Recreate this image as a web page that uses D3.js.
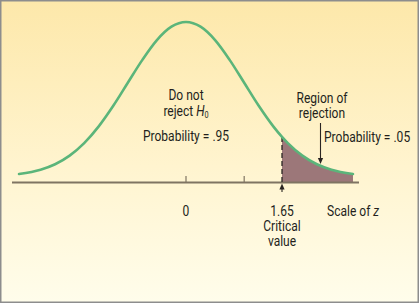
<!DOCTYPE html>
<html>
<head>
<meta charset="utf-8">
<script src="https://cdn.jsdelivr.net/npm/d3@7"></script>
<style>
  html, body { margin: 0; padding: 0; background: #fff; }
  svg text { font-family: "Roboto", "Liberation Sans", sans-serif; font-size: 14px; fill: #231f1c; }
</style>
</head>
<body>
<div id="chart"></div>
<script>
// standard normal curve (z, density)
const zValues = [-2.87, -2.5, -2.25, -2, -1.75, -1.5, -1.25, -1, -0.75, -0.5, -0.25, 0,
                 0.25, 0.5, 0.75, 1, 1.25, 1.5, 1.65, 1.75, 2, 2.25, 2.5, 2.87];
const densities = [0.0065, 0.0175, 0.0317, 0.054, 0.0863, 0.1295, 0.1826, 0.242, 0.3011, 0.3521, 0.3867, 0.3989,
                   0.3867, 0.3521, 0.3011, 0.242, 0.1826, 0.1295, 0.1023, 0.0863, 0.054, 0.0317, 0.0175, 0.0065];
const tickValues = [0, 1];
const criticalZ = 1.65;
const tickLabels = ['0', '1.65'];
const labelPositions = [0, 1.65];

const width = 420, height = 304;
const axisY = 182.5;
const squeeze = 0.86; // the original uses a condensed face

const svg = d3.select('#chart').append('svg')
    .attr('width', width)
    .attr('height', height);

// background gradient
const grad = svg.append('defs').append('linearGradient')
    .attr('id', 'bg').attr('x1', 0).attr('y1', 0).attr('x2', 0).attr('y2', 1);
grad.append('stop').attr('offset', '0%').attr('stop-color', '#fde8aa');
grad.append('stop').attr('offset', '55%').attr('stop-color', '#fff4cf');
grad.append('stop').attr('offset', '100%').attr('stop-color', '#fffdeb');

svg.append('rect')
    .attr('x', 0.75).attr('y', 0.75)
    .attr('width', width - 2.5).attr('height', height - 2.5)
    .attr('fill', 'url(#bg)')
    .attr('stroke', '#8d8d8d')
    .attr('stroke-width', 1.5);

// scales
const x = d3.scaleLinear().domain([0, 1.65]).range([186, 282]);
const y = d3.scaleLinear().domain([0, 0.3989]).range([176.5, 22]);

const points = zValues.map((z, i) => ({ z: z, d: densities[i] }));
const tail = points.filter(p => p.z >= criticalZ);

// rejection region
const area = d3.area()
    .x(p => x(p.z))
    .y0(axisY)
    .y1(p => y(p.d))
    .curve(d3.curveMonotoneX);

svg.append('path')
    .datum(tail)
    .attr('d', area)
    .attr('fill', '#9c7779');

// axis line
svg.append('line')
    .attr('x1', 12).attr('x2', 359)
    .attr('y1', axisY).attr('y2', axisY)
    .attr('stroke', '#7f7462')
    .attr('stroke-width', 1.8);

// tick marks
svg.selectAll('.tick')
    .data(tickValues)
    .enter().append('line')
    .attr('class', 'tick')
    .attr('x1', d => x(d)).attr('x2', d => x(d))
    .attr('y1', axisY - 6.5).attr('y2', axisY)
    .attr('stroke', '#7f7462')
    .attr('stroke-width', 1.2);

// dashed critical line
const critD = densities[zValues.indexOf(criticalZ)];
svg.append('line')
    .attr('x1', x(criticalZ)).attr('x2', x(criticalZ))
    .attr('y1', y(critD)).attr('y2', axisY)
    .attr('stroke', '#2a2522')
    .attr('stroke-width', 1.3)
    .attr('stroke-dasharray', '5,3');

// the curve
const line = d3.line()
    .x(p => x(p.z))
    .y(p => y(p.d))
    .curve(d3.curveMonotoneX);

svg.append('path')
    .datum(points)
    .attr('d', line)
    .attr('fill', 'none')
    .attr('stroke', '#5bb57a')
    .attr('stroke-width', 2.6)
    .attr('stroke-linecap', 'round');

// arrows
function arrow(x0, y0, y1) {
    const dir = y1 > y0 ? 1 : -1;
    svg.append('line')
        .attr('x1', x0).attr('x2', x0)
        .attr('y1', y0).attr('y2', y1 - dir * 4)
        .attr('stroke', '#2a2522').attr('stroke-width', 1.1);
    svg.append('path')
        .attr('d', `M${x0 - 2.6},${y1 - dir * 6}L${x0 + 2.6},${y1 - dir * 6}L${x0},${y1}Z`)
        .attr('fill', '#2a2522');
}
arrow(x(criticalZ), 192, axisY + 1);
arrow(320.5, 123, 164);

// condensed text helper
function label(px, py, anchor) {
    return svg.append('text')
        .attr('transform', `translate(${px},${py}) scale(${squeeze},1)`)
        .attr('text-anchor', anchor || 'middle');
}

// labels under the axis
labelPositions.forEach((d, i) => label(x(d), 216).text(tickLabels[i]));
label(x(criticalZ), 231).text('Critical');
label(x(criticalZ), 246).text('value');

const scaleText = label(327, 216, 'start');
scaleText.append('tspan').text('Scale of ');
scaleText.append('tspan').attr('font-style', 'italic').text('z');

// region texts
label(186, 100).text('Do not');
const rej = label(186, 116);
rej.append('tspan').text('reject ');
rej.append('tspan').attr('font-style', 'italic').text('H');
rej.append('tspan').attr('font-size', '8.5px').attr('dy', 2).text('0');
label(186, 141).text('Probability = .95');

label(322, 103).text('Region of');
label(322, 118).text('rejection');
label(324, 142, 'start').text('Probability = .05');
</script>
</body>
</html>
